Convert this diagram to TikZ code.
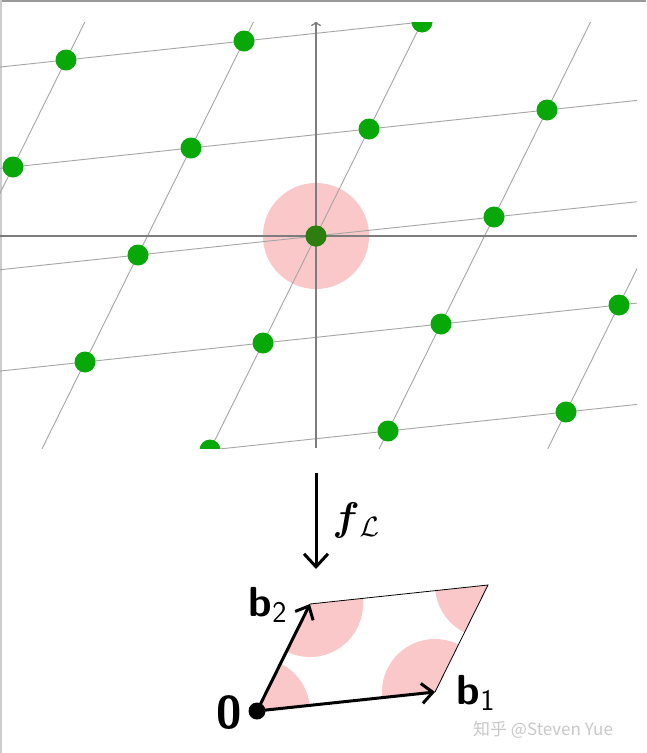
\documentclass[tikz,border=0pt]{standalone}
\usepackage{fix-cm}
\usepackage{fontspec}
\newfontfamily\cjk{Noto Sans CJK SC}
\usetikzlibrary{arrows.meta}
\definecolor{latgreen}{RGB}{8,168,8}
\definecolor{origgreen}{RGB}{45,125,15}
\definecolor{softpink}{RGB}{250,200,200}
\definecolor{gridgray}{RGB}{165,165,165}
\definecolor{axisgray}{RGB}{125,125,125}
\definecolor{wmgray}{RGB}{200,200,200}
\tikzset{
  gridline/.style={draw=gridgray, line width=0.9pt},
  axisline/.style={draw=axisgray, line width=1.3pt},
  latdot/.style={fill=latgreen},
  basisarrow/.style={line width=3pt, -{Straight Barb[length=11pt,width=20pt,line width=3pt]}},
  maparrow/.style={line width=3pt, -{Straight Barb[length=13pt,width=24pt,line width=3pt]}},
  bigsf/.style={font=\fontsize{42}{44}\selectfont\sffamily\bfseries, inner sep=0pt},
}
\begin{document}
\begin{tikzpicture}[x=1pt,y=-1pt]
\useasboundingbox (0,0) rectangle (646,753);
\fill[white] (0,0) rectangle (646,753);
% frame edges of the screenshot
\draw[draw=gray!80, line width=2pt] (0,1) -- (646,1);
\draw[draw=gray!40, line width=1.5pt] (0.75,0) -- (0.75,753);

% ---------- top: lattice ----------
\begin{scope}
  \clip (0,22) rectangle (637,448);
  \fill[softpink] (316,236) circle[radius=53];
  \begin{scope}[shift={(316pt,-236pt)}, x={(178pt,19pt)}, y={(53pt,107pt)}]
    \foreach \a in {-5,...,5} {
      \draw[gridline] (\a,-4) -- (\a,4);
      \draw[gridline] (-5,\a) -- (5,\a);
    }
  \end{scope}
  \draw[axisline] (0,236) -- (637,236);
  \draw[axisline, -{To[length=5pt,width=10pt]}] (316,448) -- (316,21);
  \begin{scope}[shift={(316pt,-236pt)}, x={(178pt,19pt)}, y={(53pt,107pt)}]
    \foreach \a in {-4,...,4} {
      \foreach \b in {-3,...,3} {
        \fill[latdot] (\a,\b) circle[radius=10.5pt];
      }
    }
    \fill[origgreen] (0,0) circle[radius=10.5pt];
  \end{scope}
\end{scope}

% ---------- map arrow ----------
\coordinate (mapTop) at (316,473);
\coordinate (mapBot) at (316,569);
\draw[maparrow] (mapTop) -- (mapBot);
\node[inner sep=0pt, font=\fontsize{40}{42}\selectfont] (fl) at (356,520) {{\boldmath$f$}$_{\mathcal{L}}$};

% ---------- fundamental domain ----------
\begin{scope}[shift={(257pt,-711pt)}, x={(178pt,19pt)}, y={(53pt,107pt)}]
  \coordinate (O) at (0,0);
  \coordinate (B1) at (1,0);
  \coordinate (B2) at (0,1);
  \coordinate (B12) at (1,1);
  \begin{scope}
    \clip (O) -- (B1) -- (B12) -- (B2) -- cycle;
    \foreach \p in {O,B1,B2,B12} {
      \fill[softpink] (\p) circle[radius=53pt];
    }
  \end{scope}
  \draw[line width=0.8pt] (B2) -- (B12) -- (B1);
  \draw[basisarrow] (O) -- (B1);
  \draw[basisarrow] (O) -- (B2);
  \fill (O) circle[radius=8.5pt];
\end{scope}

\node[bigsf, font=\fontsize{46}{46}\selectfont\sffamily\bfseries] (zero) at (229,713) {0};
\node[bigsf] (b2) at (268,605) {b\textsubscript{\fontsize{30}{30}\selectfont\mdseries 2}};
\node[bigsf] (b1) at (476,693) {b\textsubscript{\fontsize{30}{30}\selectfont\mdseries 1}};

% watermark
\node[text=wmgray, font=\fontsize{17}{17}\selectfont\cjk, inner sep=0pt, anchor=west] (wm) at (473,730) {知乎 @Steven Yue};
\end{tikzpicture}
\end{document}
